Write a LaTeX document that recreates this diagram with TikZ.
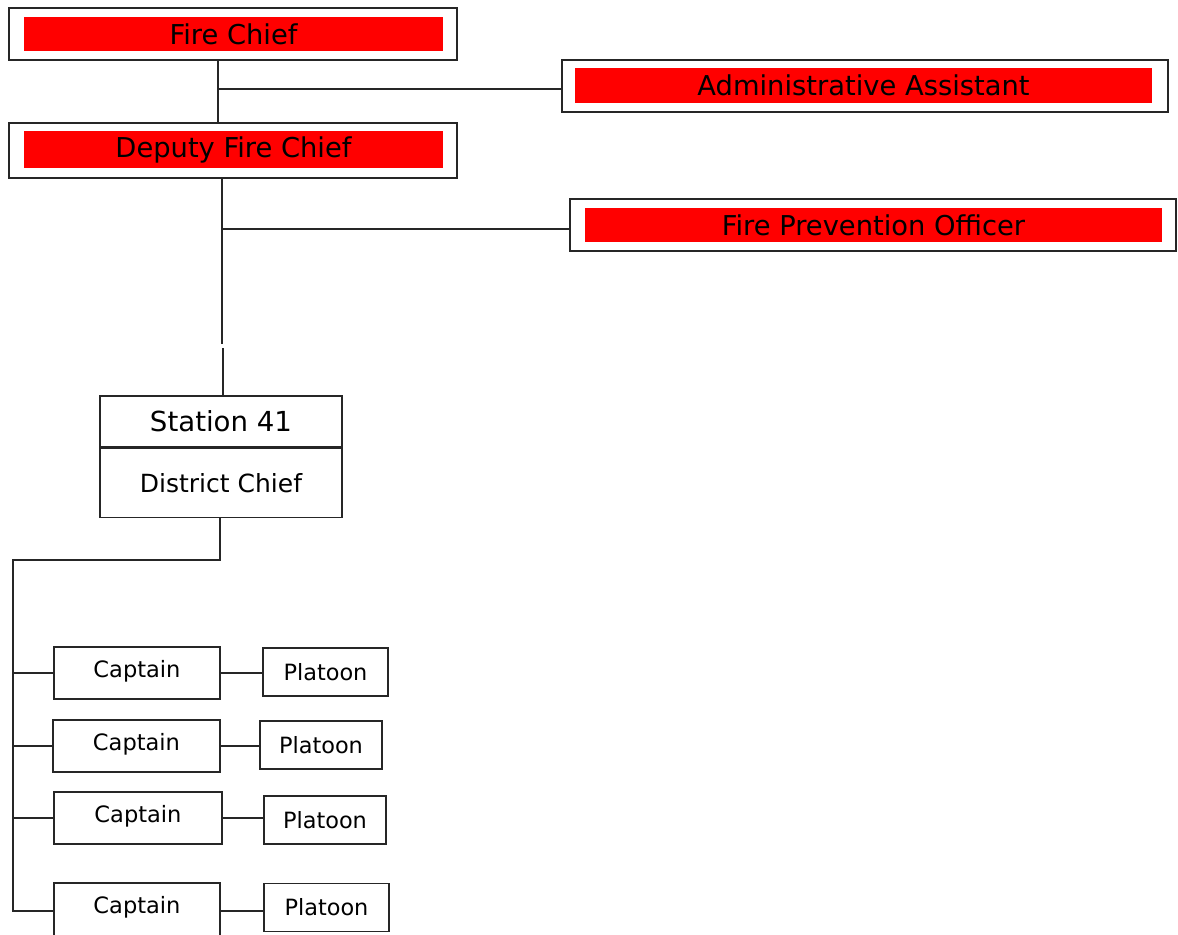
\documentclass[tikz,border=0pt]{standalone}
\usepackage{fontspec}
\setmainfont{DejaVu Sans}
\usepackage{xcolor}
\usepackage{tikz}

\begin{document}
\begin{tikzpicture}[x=0.75pt, y=-0.75pt,
    frame/.style={draw=black!85, line width=0.9pt, inner sep=0pt},
    redbar/.style={fill=red, inner sep=0pt, text=black, font=\fontsize{20.5}{24}\selectfont},
    unit/.style={draw=black!85, line width=0.9pt, inner sep=0pt},
    link/.style={black!85, line width=0.9pt}]
    \useasboundingbox (0,0) rectangle (1178,935);
    \clip (0,0) rectangle (1178,935);

    % Top management
    \node[frame, minimum width=336pt, minimum height=39pt] (chief) at (233,34) {};
    \node[redbar, minimum width=314.25pt, minimum height=25.5pt] (chiefbar) at (233.5,34) {Fire Chief};
    \node[frame, minimum width=336pt, minimum height=41.25pt] (deputy) at (233,150.5) {};
    \node[redbar, minimum width=314.25pt, minimum height=27.75pt] (deputybar) at (233.5,149.5) {Deputy Fire Chief};

    \node[frame, minimum width=454.5pt, minimum height=39pt] (admin) at (865,86) {};
    \node[redbar, minimum width=432.75pt, minimum height=26.25pt] (adminbar) at (863.5,85.5) {Administrative Assistant};
    \node[frame, minimum width=454.5pt, minimum height=39pt] (prevent) at (873,225) {};
    \node[redbar, minimum width=432.75pt, minimum height=25.5pt] (preventbar) at (873.5,225) {Fire Prevention Officer};

    \coordinate (trunkA) at (218,89);
    \coordinate (trunkB) at (222,229);
    \draw[link] (chief.south -| trunkA) -- (deputy.north -| trunkA);
    \draw[link] (trunkA) -- (admin.west |- trunkA);
    \draw[link] (trunkB) -- (prevent.west |- trunkB);

    % Station
    \node[unit, minimum width=181.5pt, minimum height=38.25pt, font=\fontsize{20.7}{24}\selectfont] (station) at (221,421.5) {Station 41};
    \node[unit, minimum width=181.5pt, minimum height=51.75pt, font=\fontsize{18.75}{22}\selectfont, anchor=north] (district) at (station.south) {District Chief};

    \coordinate (gapTop) at (222,344);
    \coordinate (gapBot) at (223,348);
    \draw[link] (deputy.south -| trunkB) -- (gapTop);
    \draw[link] (gapBot) -- (gapBot |- station.north);

    % Captains and platoons
    \coordinate (elbow) at (13,560);
    \coordinate (spineEnd) at (13,912);
    \draw[link] (district.south -| 220,0) |- (elbow) -- (spineEnd);

    \foreach \n/\cx/\cy/\cw/\ch/\ty/\px/\py/\pw in {
        1/137/673/124.5/39/671/325.5/672/93.75,
        2/136.5/746/125.25/39/744/321/745/91.5,
        3/138/818/126/39/816/325/820/91.5,
        4/137/911/124.5/42/907/326.5/907.5/93.75}{
      \node[unit, minimum width=\cw pt, minimum height=\ch pt] (cap\n) at (\cx,\cy) {};
      \node[font=\fontsize{16.9}{20}\selectfont, inner sep=0pt] (caplabel\n) at (\cx,\ty) {Captain};
      \node[unit, minimum width=\pw pt, minimum height=36pt, font=\fontsize{16.8}{20}\selectfont] (plat\n) at (\px,\py) {Platoon};
      \draw[link] (elbow |- cap\n.west) -- (cap\n.west);
      \draw[link] (cap\n.east) -- (plat\n.west |- cap\n.east);
    }
\end{tikzpicture}
\end{document}
